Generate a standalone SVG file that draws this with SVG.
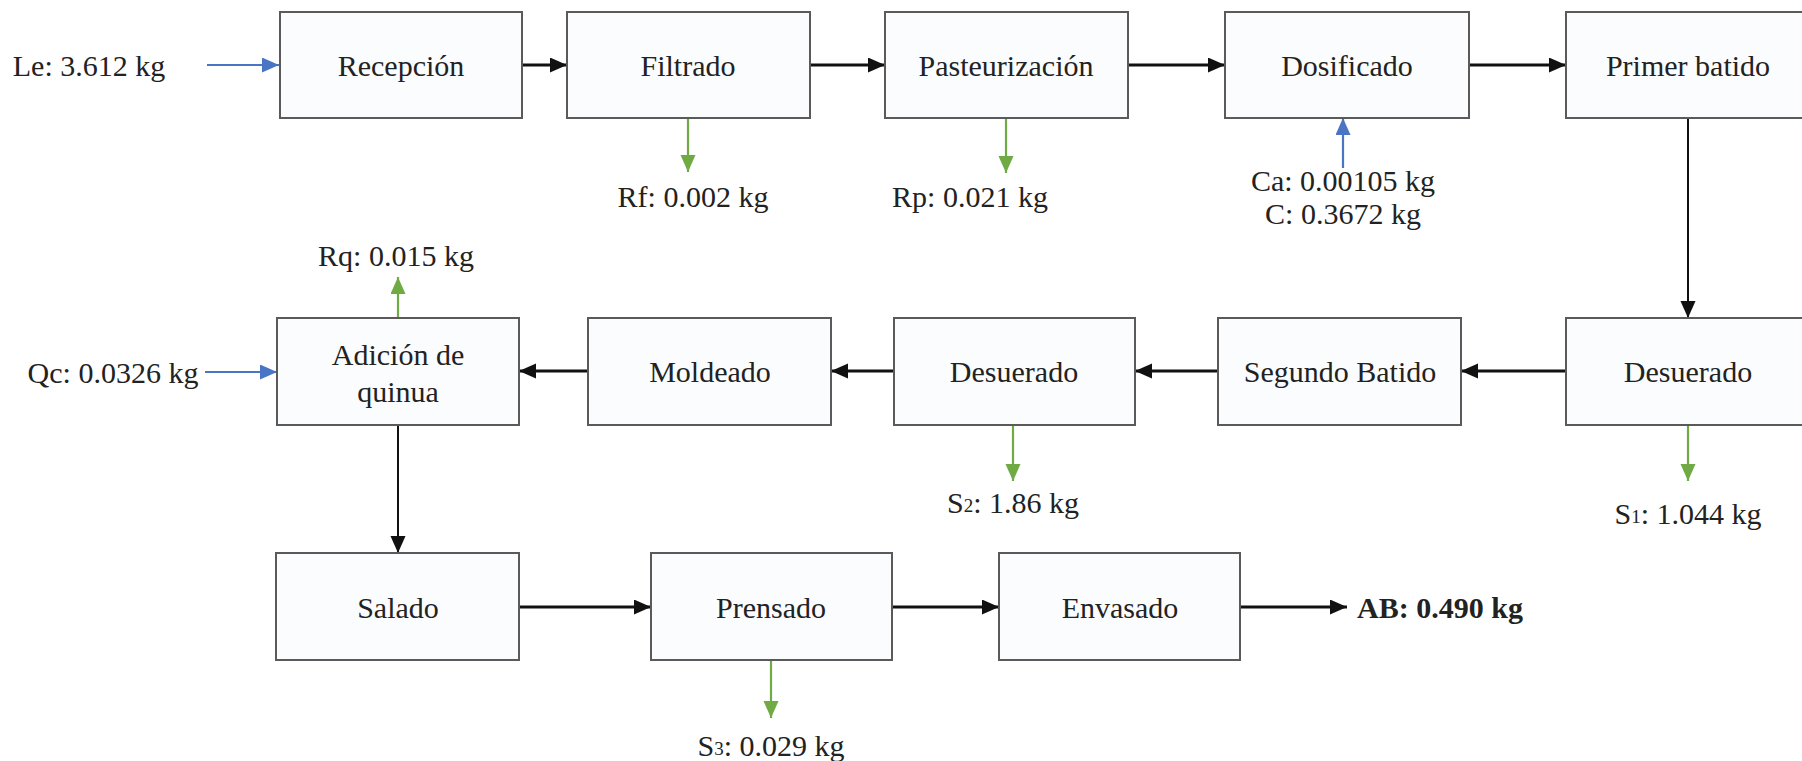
<svg xmlns="http://www.w3.org/2000/svg" width="1802" height="761" viewBox="0 0 1802 761">
<defs>
<style>
.box{fill:#fbfcfe;stroke:#5a5a5a;stroke-width:2}
.t{font-family:'Liberation Serif',serif;font-size:30px;fill:#222;text-anchor:middle;dominant-baseline:central}
.b{font-weight:bold}
.k{stroke:#111;stroke-width:3;fill:none}
.kv{stroke:#111;stroke-width:2;fill:none}
.bl{stroke:#4a74c4;stroke-width:2.2;fill:none}
.gr{stroke:#6faa45;stroke-width:2.2;fill:none}
</style>
<marker id="ak" markerUnits="userSpaceOnUse" markerWidth="18" markerHeight="16" refX="17" refY="7.5" orient="auto"><path d="M0,0 L17,7.5 L0,15 z" fill="#111"/></marker>
<marker id="ab" markerUnits="userSpaceOnUse" markerWidth="18" markerHeight="16" refX="17" refY="7.5" orient="auto"><path d="M0,0 L17,7.5 L0,15 z" fill="#4a74c4"/></marker>
<marker id="ag" markerUnits="userSpaceOnUse" markerWidth="18" markerHeight="16" refX="17" refY="7.5" orient="auto"><path d="M0,0 L17,7.5 L0,15 z" fill="#6faa45"/></marker>
</defs>
<rect width="1802" height="761" fill="#ffffff"/>

<g id="connectors">
<line class="bl" x1="207" y1="65" x2="279" y2="65" marker-end="url(#ab)"/>
<line class="k" x1="522" y1="65" x2="567" y2="65" marker-end="url(#ak)"/>
<line class="k" x1="810" y1="65" x2="885" y2="65" marker-end="url(#ak)"/>
<line class="k" x1="1128" y1="65" x2="1225" y2="65" marker-end="url(#ak)"/>
<line class="k" x1="1469" y1="65" x2="1566" y2="65" marker-end="url(#ak)"/>
<line class="gr" x1="688" y1="118" x2="688" y2="172" marker-end="url(#ag)"/>
<line class="gr" x1="1006" y1="118" x2="1006" y2="173" marker-end="url(#ag)"/>
<line class="bl" x1="1343" y1="168" x2="1343" y2="118" marker-end="url(#ab)"/>
<line class="kv" x1="1688" y1="118" x2="1688" y2="318" marker-end="url(#ak)"/>
<line class="k" x1="1566" y1="371" x2="1461" y2="371" marker-end="url(#ak)"/>
<line class="k" x1="1218" y1="371" x2="1135" y2="371" marker-end="url(#ak)"/>
<line class="k" x1="894" y1="371" x2="831" y2="371" marker-end="url(#ak)"/>
<line class="k" x1="588" y1="371" x2="519" y2="371" marker-end="url(#ak)"/>
<line class="gr" x1="1688" y1="425" x2="1688" y2="481" marker-end="url(#ag)"/>
<line class="gr" x1="1013" y1="425" x2="1013" y2="481" marker-end="url(#ag)"/>
<line class="gr" x1="398" y1="318" x2="398" y2="277" marker-end="url(#ag)"/>
<line class="bl" x1="205" y1="372" x2="277" y2="372" marker-end="url(#ab)"/>
<line class="kv" x1="398" y1="425" x2="398" y2="553" marker-end="url(#ak)"/>
<line class="k" x1="519" y1="607" x2="651" y2="607" marker-end="url(#ak)"/>
<line class="k" x1="892" y1="607" x2="999" y2="607" marker-end="url(#ak)"/>
<line class="k" x1="1240" y1="607" x2="1347" y2="607" marker-end="url(#ak)"/>
<line class="gr" x1="771" y1="660" x2="771" y2="718" marker-end="url(#ag)"/>
</g>

<g id="recepcion"><rect class="box" x="280" y="12" width="242" height="106"/><text class="t" x="401" y="65">Recepción</text></g>
<g id="filtrado"><rect class="box" x="567" y="12" width="243" height="106"/><text class="t" x="688" y="65">Filtrado</text></g>
<g id="pasteurizacion"><rect class="box" x="885" y="12" width="243" height="106"/><text class="t" x="1006" y="65">Pasteurización</text></g>
<g id="dosificado"><rect class="box" x="1225" y="12" width="244" height="106"/><text class="t" x="1347" y="65">Dosificado</text></g>
<g id="primer-batido"><rect class="box" x="1566" y="12" width="244" height="106"/><text class="t" x="1688" y="65">Primer batido</text></g>

<g id="desuerado1"><rect class="box" x="1566" y="318" width="244" height="107"/><text class="t" x="1688" y="371">Desuerado</text></g>
<g id="segundo-batido"><rect class="box" x="1218" y="318" width="243" height="107"/><text class="t" x="1340" y="371">Segundo Batido</text></g>
<g id="desuerado2"><rect class="box" x="894" y="318" width="241" height="107"/><text class="t" x="1014" y="371">Desuerado</text></g>
<g id="moldeado"><rect class="box" x="588" y="318" width="243" height="107"/><text class="t" x="710" y="371">Moldeado</text></g>
<g id="adicion-quinua"><rect class="box" x="277" y="318" width="242" height="107"/><text class="t" x="398" y="354">Adición de</text><text class="t" x="398" y="391">quinua</text></g>

<g id="salado"><rect class="box" x="276" y="553" width="243" height="107"/><text class="t" x="398" y="607">Salado</text></g>
<g id="prensado"><rect class="box" x="651" y="553" width="241" height="107"/><text class="t" x="771" y="607">Prensado</text></g>
<g id="envasado"><rect class="box" x="999" y="553" width="241" height="107"/><text class="t" x="1120" y="607">Envasado</text></g>

<g id="labels">
<text class="t" x="89" y="65">Le: 3.612 kg</text>
<text class="t" x="693" y="196">Rf: 0.002 kg</text>
<text class="t" x="970" y="196">Rp: 0.021 kg</text>
<text class="t" x="1343" y="180">Ca: 0.00105 kg</text>
<text class="t" x="1343" y="213">C: 0.3672 kg</text>
<text class="t" x="396" y="255">Rq: 0.015 kg</text>
<text class="t" x="113" y="372">Qc: 0.0326 kg</text>
<text class="t" x="1013" y="502">S<tspan font-size="19" dy="3">2</tspan><tspan dy="-3">: 1.86 kg</tspan></text>
<text class="t" x="1688" y="513">S<tspan font-size="19" dy="3">1</tspan><tspan dy="-3">: 1.044 kg</tspan></text>
<text class="t" x="771" y="745">S<tspan font-size="19" dy="3">3</tspan><tspan dy="-3">: 0.029 kg</tspan></text>
<text class="t b" x="1440" y="607">AB: 0.490 kg</text>
</g>
</svg>
